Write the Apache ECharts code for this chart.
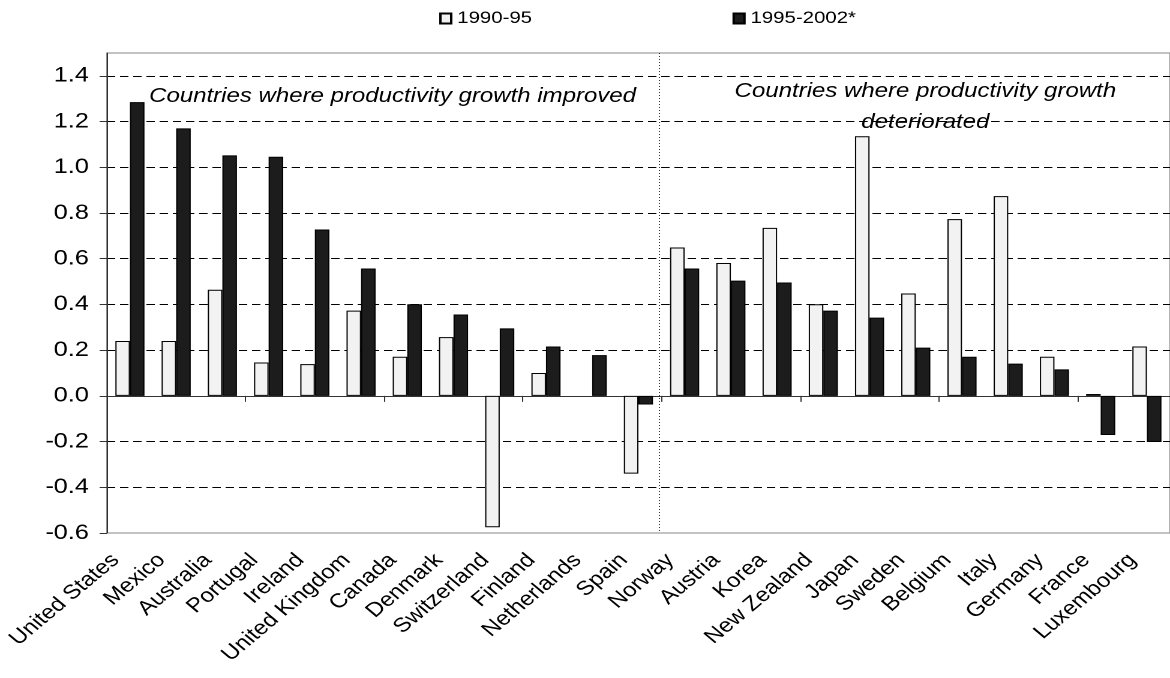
<!DOCTYPE html>
<html>
<head>
<meta charset="utf-8">
<script src="https://cdn.jsdelivr.net/npm/echarts@6/dist/echarts.min.js"></script>
<style>
  html, body { margin: 0; padding: 0; background: #ffffff; overflow: hidden; }
  #wrap { width: 1170px; height: 678px; overflow: hidden; }
  /* the chart is laid out at 975px and widened to 1170px on screen */
  #chart { width: 975px; height: 678px; transform: scaleX(1.2); transform-origin: 0 0; }
</style>
</head>
<body>
<div id="wrap"><div id="chart"></div></div>
<script>
// Labour productivity growth contribution, two periods
const categories = [
  'United States', 'Mexico', 'Australia', 'Portugal', 'Ireland', 'United Kingdom',
  'Canada', 'Denmark', 'Switzerland', 'Finland', 'Netherlands', 'Spain',
  'Norway', 'Austria', 'Korea', 'New Zealand', 'Japan', 'Sweden', 'Belgium',
  'Italy', 'Germany', 'France', 'Luxembourg'
];
const period1 = [
  0.24, 0.24, 0.464, 0.146, 0.139, 0.373, 0.171, 0.257, -0.575, 0.10, '-', -0.34,
  0.649, 0.581, 0.735, 0.401, 1.136, 0.448, 0.773, 0.874, 0.171, 0.008, 0.216
];
const period2 = [
  1.285, 1.17, 1.052, 1.046, 0.728, 0.557, 0.401, 0.356, 0.295, 0.216, 0.178, -0.038,
  0.557, 0.504, 0.496, 0.373, 0.342, 0.211, 0.171, 0.141, 0.116, -0.171, -0.202
];
const seriesNames = ['1990-95', '1995-2002*'];
const groupNotes = [
  'Countries where productivity growth improved',
  'Countries where productivity growth\ndeteriorated'
];
// last category of the first group
const splitAfter = 11;

const FONT = '"Liberation Sans", Arial, sans-serif';
const chart = echarts.init(document.getElementById('chart'), null, {
  renderer: 'canvas', devicePixelRatio: 2
});

chart.setOption({
  animation: false,
  backgroundColor: '#ffffff',
  textStyle: { fontFamily: FONT, color: '#000' },
  legend: {
    top: 5,
    left: 361,
    itemGap: 167,
    itemWidth: 9,
    itemHeight: 10,
    icon: 'rect',
    textStyle: { fontSize: 17, color: '#000', fontFamily: FONT },
    data: seriesNames
  },
  grid: {
    left: 89, right: -4, top: 53, bottom: 145,
    show: true, borderColor: '#888', borderWidth: 1, backgroundColor: 'transparent'
  },
  xAxis: [
    {
      type: 'category',
      data: categories,
      position: 'top',
      axisLine: { onZero: true, lineStyle: { color: '#333', width: 1 } },
      axisTick: { show: true, inside: true, length: 6, lineStyle: { color: '#333' } },
      axisLabel: { show: false },
      splitLine: { show: false }
    },
    {
      type: 'category',
      data: categories,
      position: 'bottom',
      axisLine: { show: false, onZero: false },
      axisTick: { show: false },
      axisLabel: {
        rotate: 45, align: 'right', verticalAlign: 'top', margin: -2,
        fontSize: 20, color: '#000', fontFamily: FONT, interval: 0,
        padding: [0, 27, 0, 0]
      },
      splitLine: { show: false }
    }
  ],
  yAxis: {
    type: 'value',
    min: -0.6, max: 1.5, interval: 0.2,
    axisLine: { show: true, lineStyle: { color: '#333', width: 1 } },
    axisTick: { show: true, length: 6, lineStyle: { color: '#333' } },
    axisLabel: {
      showMaxLabel: false, margin: 15, fontSize: 21, color: '#000', fontFamily: FONT,
      formatter: v => (Math.abs(v) < 1e-9 ? 0 : v).toFixed(1)
    },
    splitLine: {
      show: true, showMaxLine: false, showMinLine: false,
      lineStyle: { color: '#000', type: [7, 4], width: 1 }
    }
  },
  series: [
    {
      name: seriesNames[0], type: 'bar', data: period1,
      xAxisIndex: 0, barGap: '0%', barCategoryGap: '37%',
      itemStyle: { color: '#f2f2f2', borderColor: '#000', borderWidth: 1 }
    },
    {
      name: seriesNames[1], type: 'bar', data: period2,
      xAxisIndex: 0, barGap: '0%', barCategoryGap: '37%',
      itemStyle: { color: '#1c1c1c', borderColor: '#000', borderWidth: 1 }
    }
  ]
});

// Group divider and group captions, placed through the axes' own scales
const px = i => chart.convertToPixel({ xAxisIndex: 0 }, i);
const py = v => chart.convertToPixel({ yAxisIndex: 0 }, v);
const divX = Math.round((px(splitAfter) + px(splitAfter + 1)) / 2) - 1.5;
const secondMid = px(Math.round((splitAfter + 1 + categories.length - 1) / 2));

chart.setOption({
  graphic: [
    {
      type: 'line', silent: true, z: 10,
      shape: { x1: divX, y1: py(1.5), x2: divX, y2: py(-0.6) },
      style: { stroke: '#333', lineWidth: 1, lineDash: [1, 2] }
    },
    {
      type: 'text', silent: true, z: 20,
      x: px(0) + 16, y: py(1.31),
      style: {
        text: groupNotes[0], fill: '#000', fontFamily: FONT, fontStyle: 'italic',
        fontSize: 20, align: 'left', verticalAlign: 'middle'
      }
    },
    {
      type: 'text', silent: true, z: 20,
      x: secondMid + 8, y: py(1.265),
      style: {
        text: groupNotes[1], fill: '#000', fontFamily: FONT, fontStyle: 'italic',
        fontSize: 20, align: 'center', verticalAlign: 'middle', lineHeight: 31
      }
    }
  ]
});
</script>
</body>
</html>
